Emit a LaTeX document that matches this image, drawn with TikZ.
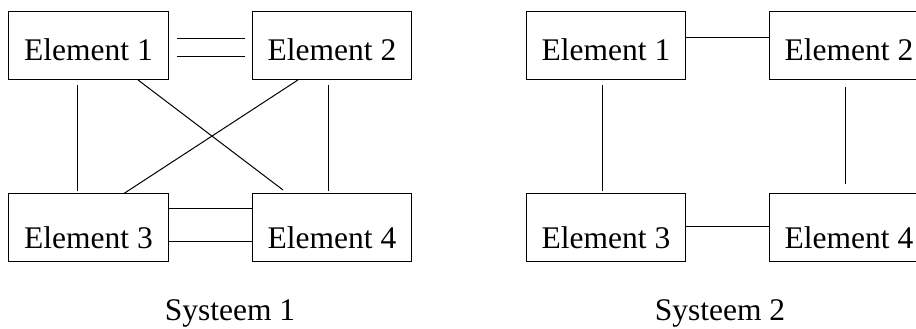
\documentclass[tikz,border=0pt]{standalone}
\usepackage{fontspec}
\setmainfont{Liberation Serif}
\begin{document}
\begin{tikzpicture}[x=1pt,y=-1pt,
  elem/.style={draw, line width=1pt, inner sep=0pt, minimum width=159.5pt,
    minimum height=67.5pt, font=\fontsize{31.5}{36}\selectfont, text depth=0pt},
  toprow/.style={elem, text height=28.6pt},
  botrow/.style={elem, text height=40.6pt},
  link/.style={line width=1pt},
  caption/.style={font=\fontsize{31.5}{36}\selectfont, anchor=base}]
\useasboundingbox (0,0) rectangle (916,329);
\clip (0,0) rectangle (916,329);

% System 1: every element linked to every other
\node[toprow] (a1) at (88.5,45.7) {Element 1};
\node[toprow] (a2) at (332,45.7) {Element 2};
\node[botrow] (a3) at (88.5,227.7) {Element 3};
\node[botrow] (a4) at (332,227.7) {Element 4};

\draw[link, shorten <=8pt, shorten >=7pt] ([yshift=7.4pt]a1.east) -- ([yshift=7.4pt]a2.west);
\draw[link, shorten <=8pt, shorten >=7pt] ([yshift=-11.3pt]a1.east) -- ([yshift=-11.3pt]a2.west);
\draw[link] ([yshift=18.8pt]a3.east) -- ([yshift=18.8pt]a4.west);
\draw[link] ([yshift=-14.2pt]a3.east) -- ([yshift=-14.2pt]a4.west);
\draw[link, shorten <=5pt, shorten >=2pt] ([xshift=-11pt]a1.south) -- ([xshift=-11pt]a3.north);
\draw[link, shorten <=5pt, shorten >=2pt] ([xshift=-4pt]a2.south) -- ([xshift=-4pt]a4.north);
\draw[link, shorten >=5.8pt] ([xshift=49.5pt]a1.south) -- ([xshift=-44.4pt]a4.north);
\draw[link] ([xshift=-34pt]a2.south) -- ([xshift=35.5pt]a3.north);

\node[caption] (s1) at (230,320.7) {Systeem 1};

% System 2: elements linked in a ring
\node[toprow] (b1) at (606,45.7) {Element 1};
\node[toprow] (b2) at (849,45.7) {Element 2};
\node[botrow] (b3) at (606,227.7) {Element 3};
\node[botrow] (b4) at (849,227.7) {Element 4};

\draw[link] ([yshift=8.4pt]b1.east) -- ([yshift=8.4pt]b2.west);
\draw[link] ([yshift=1pt]b3.east) -- ([yshift=1pt]b4.west);
\draw[link, shorten <=5pt, shorten >=2pt] ([xshift=-4pt]b1.south) -- ([xshift=-4pt]b3.north);
\draw[link, shorten <=6.7pt, shorten >=9.3pt] ([xshift=-4pt]b2.south) -- ([xshift=-4pt]b4.north);

\node[caption] (s2) at (720,320.7) {Systeem 2};
\end{tikzpicture}
\end{document}
